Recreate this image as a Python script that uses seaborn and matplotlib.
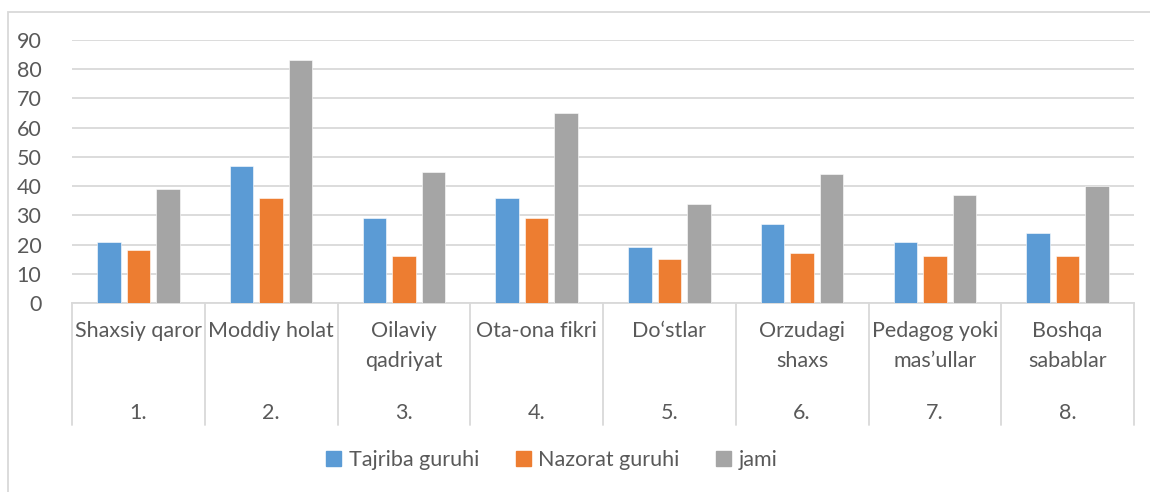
import pandas as pd
import numpy as np
import matplotlib.pyplot as plt
import seaborn as sns
from matplotlib.patches import Rectangle
from matplotlib.transforms import blended_transform_factory

# data
numbers = ['1.', '2.', '3.', '4.', '5.', '6.', '7.', '8.']
reasons = ['Shaxsiy qaror', 'Moddiy holat', 'Oilaviy\nqadriyat', 'Ota-ona fikri',
           'Do\u2018stlar', 'Orzudagi\nshaxs', 'Pedagog yoki\nmas\u2019ullar', 'Boshqa\nsabablar']
series = ['Tajriba guruhi', 'Nazorat guruhi', 'jami']
tajriba = [21, 47, 29, 36, 19, 27, 21, 24]
nazorat = [18, 36, 16, 29, 15, 17, 16, 16]
jami = [39, 83, 45, 65, 34, 44, 37, 40]
colors = ['#5B9BD5', '#ED7D31', '#A5A5A5']

df = pd.DataFrame({
    'num': numbers * 3,
    'group': np.repeat(series, len(numbers)),
    'value': tajriba + nazorat + jami,
})

sns.set_style('white')
plt.rcParams['font.family'] = ['Lato', 'DejaVu Sans']
txt = '#595959'
grid = '#D9D9D9'
fs = 15.5

fig = plt.figure(figsize=(11.5, 4.92), dpi=100)
ax = fig.add_axes([72/1150, 1-303/492, (1134-72)/1150, (303-40)/492])

sns.barplot(data=df, x='num', y='value', hue='group', order=numbers, hue_order=series,
            palette=colors, saturation=1, width=0.667, gap=0.2, edgecolor='white',
            linewidth=0.4, legend=False, ax=ax, zorder=3)

ax.set_ylim(0, 90)
ax.set_xlim(-0.5, len(numbers) - 0.5)
ax.set_yticks(range(0, 91, 10))
ax.yaxis.grid(True, color=grid, linewidth=1.3, zorder=0)
ax.tick_params(axis='y', length=0, labelsize=fs, labelcolor=txt, pad=22)
ax.tick_params(axis='x', length=0, labelbottom=False)
ax.set_xlabel('')
ax.set_ylabel('')
for s in ['top', 'right', 'left']:
    ax.spines[s].set_visible(False)
ax.spines['bottom'].set_color(grid)
ax.spines['bottom'].set_linewidth(1.3)

# two-level category axis
tr = blended_transform_factory(ax.transData, ax.transAxes)
for i, (r, n) in enumerate(zip(reasons, numbers)):
    ax.text(i, -0.068, r, transform=tr, ha='center', va='top', fontsize=fs,
            color=txt, linespacing=1.65)
    ax.text(i, -0.42, n, transform=tr, ha='center', va='center', fontsize=fs, color=txt)
for b in np.arange(len(numbers) + 1) - 0.5:
    ax.plot([b, b], [0, -0.464], transform=tr, color=grid, linewidth=1.3, clip_on=False)

# legend
handles = [Rectangle((0, 0), 1, 1, color=c) for c in colors]
fig.legend(handles, series, loc='center', bbox_to_anchor=(0.48, 1-460/492), ncol=3,
           frameon=False, fontsize=fs, labelcolor=txt, handlelength=0.7,
           handleheight=0.7, handletextpad=0.35, columnspacing=1.7)

# chart area border
fig.patches.append(Rectangle((8/1150, -0.1), 1.2, 1.1 - 12/492, transform=fig.transFigure,
                             fill=False, edgecolor=grid, linewidth=1.3))

fig.savefig('out.png', dpi=100)
